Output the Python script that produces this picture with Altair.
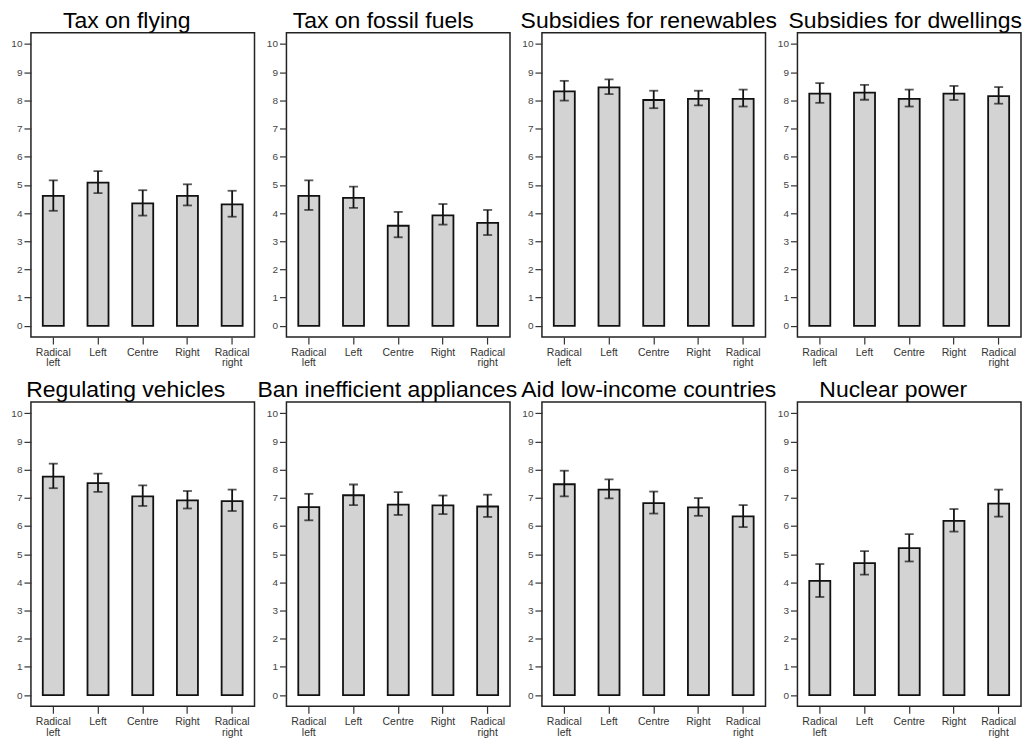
import altair as alt
import pandas as pd

# Party families on the x axis
groups = ["Radical left", "Left", "Centre", "Right", "Radical right"]

# Policy items, one panel each
titles = [
    "Tax on flying",
    "Tax on fossil fuels",
    "Subsidies for renewables",
    "Subsidies for dwellings",
    "Regulating vehicles",
    "Ban inefficient appliances",
    "Aid low-income countries",
    "Nuclear power",
]

# Mean support (0-10) by party family
means = [
    [4.61, 5.08, 4.34, 4.61, 4.31],
    [4.61, 4.54, 3.55, 3.92, 3.65],
    [8.32, 8.46, 8.01, 8.05, 8.05],
    [8.24, 8.27, 8.05, 8.24, 8.15],
    [7.75, 7.52, 7.05, 6.91, 6.88],
    [6.67, 7.09, 6.76, 6.73, 6.69],
    [7.48, 7.29, 6.81, 6.66, 6.34],
    [4.05, 4.68, 5.21, 6.18, 6.79],
]

# Lower and upper ends of the confidence intervals
lower = [
    [4.08, 4.71, 3.91, 4.27, 3.87],
    [4.11, 4.18, 3.14, 3.59, 3.22],
    [7.99, 8.22, 7.72, 7.82, 7.78],
    [7.91, 8.02, 7.78, 8.01, 7.88],
    [7.34, 7.21, 6.71, 6.62, 6.53],
    [6.20, 6.74, 6.39, 6.42, 6.32],
    [7.05, 6.98, 6.44, 6.36, 5.96],
    [3.48, 4.27, 4.74, 5.80, 6.33],
]
upper = [
    [5.16, 5.49, 4.81, 5.02, 4.79],
    [5.16, 4.94, 4.04, 4.32, 4.11],
    [8.69, 8.74, 8.34, 8.34, 8.38],
    [8.61, 8.55, 8.38, 8.51, 8.47],
    [8.21, 7.86, 7.44, 7.24, 7.29],
    [7.14, 7.47, 7.20, 7.08, 7.11],
    [7.96, 7.65, 7.22, 6.99, 6.74],
    [4.65, 5.11, 5.71, 6.60, 7.29],
]

y_ticks = list(range(0, 11))

FONT = "Liberation Sans"

# Horizontal nudge of each panel title relative to the panel centre (px)
title_dx = [-16, -15, -5, -4, -17, -11, -5, -16]

y_axis = alt.Axis(
    title=None,
    values=y_ticks,
    labelFont=FONT,
    labelFontSize=10,
    labelColor="#444444",
    labelPadding=2,
    tickSize=7,
    tickColor="#333333",
    tickWidth=1.2,
    domain=False,
    grid=False,
)

x_axis = alt.Axis(
    title=None,
    labelAngle=0,
    labelExpr="split(datum.label, ' ')",
    labelFont=FONT,
    labelFontSize=10.5,
    labelLineHeight=11,
    labelColor="#333333",
    labelPadding=3,
    tickSize=7,
    tickColor="#333333",
    tickWidth=1.2,
    domain=False,
    grid=False,
)


def panel(title, m, lo, hi, dx):
    df = pd.DataFrame({"group": groups, "mean": m, "lo": lo, "hi": hi})
    yscale = alt.Scale(domain=[-0.4, 10.4], nice=False, zero=False)
    base = alt.Chart(df).encode(
        x=alt.X(
            "group:N",
            sort=groups,
            scale=alt.Scale(paddingInner=0, paddingOuter=0),
            axis=x_axis,
        )
    )
    bars = base.mark_bar(
        width=alt.RelativeBandSize(0.47),
        fill="#d3d3d3",
        stroke="#111111",
        strokeWidth=1.8,
    ).encode(y=alt.Y("mean:Q", scale=yscale, axis=y_axis))
    whiskers = base.mark_rule(color="#111111", strokeWidth=1.8).encode(
        y=alt.Y("lo:Q", scale=yscale, axis=y_axis), y2="hi:Q"
    )
    cap_hi = base.mark_tick(color="#111111", size=9, thickness=1.8).encode(
        y=alt.Y("hi:Q", scale=yscale, axis=y_axis)
    )
    cap_lo = base.mark_tick(color="#111111", size=9, thickness=1.8).encode(
        y=alt.Y("lo:Q", scale=yscale, axis=y_axis)
    )
    return alt.layer(bars, whiskers, cap_hi, cap_lo).properties(
        width=224,
        height=305,
        title=alt.TitleParams(
            title,
            font=FONT,
            fontSize=23,
            fontWeight="normal",
            color="#000000",
            anchor="middle",
            frame="group",
            dx=dx,
            baseline="alphabetic",
            offset=-18,
        ),
    )


panels = [
    panel(t, m, lo, hi, dx)
    for t, m, lo, hi, dx in zip(titles, means, lower, upper, title_dx)
]

chart = (
    alt.concat(*panels, columns=4, spacing={"row": 65, "column": 32}, bounds="flush")
    .properties(padding={"left": 10, "top": 8, "right": 0, "bottom": 0})
    .configure(background="white")
    .configure_view(stroke="#222222", strokeWidth=1.5)
)

chart.save("out.html", embed_options={"renderer": "svg", "actions": False})
